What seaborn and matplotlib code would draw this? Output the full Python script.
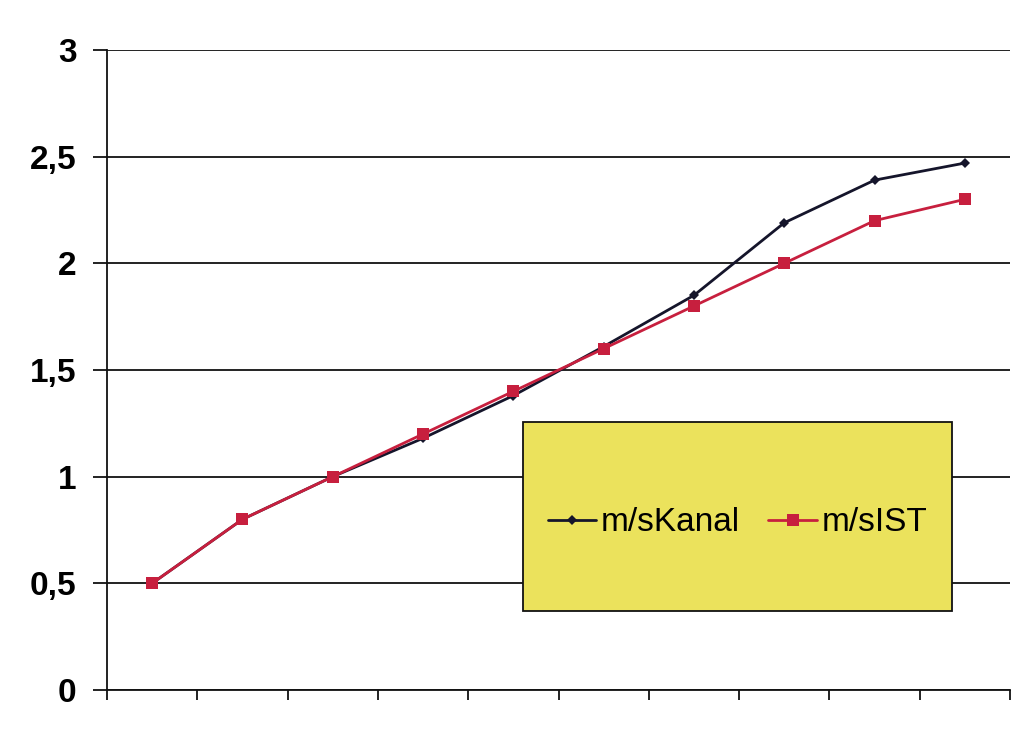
import matplotlib
matplotlib.use("Agg")
import matplotlib.pyplot as plt
import seaborn as sns
import pandas as pd
import numpy as np
from matplotlib.patches import Rectangle

# Data
points = list(range(1, 11))
kanal = [0.50, 0.80, 1.00, 1.18, 1.38, 1.61, 1.85, 2.19, 2.39, 2.47]
ist = [0.50, 0.80, 1.00, 1.20, 1.40, 1.60, 1.80, 2.00, 2.20, 2.30]
series_names = ["m/sKanal", "m/sIST"]
y_ticks = [0, 0.5, 1, 1.5, 2, 2.5, 3]
y_labels = ["0", "0,5", "1", "1,5", "2", "2,5", "3"]

df = pd.DataFrame({
    "x": points * 2,
    "y": kanal + ist,
    "series": [series_names[0]] * len(kanal) + [series_names[1]] * len(ist),
})

sns.set_style("white")
plt.rcParams["font.family"] = ["Liberation Sans", "DejaVu Sans"]

fig = plt.figure(figsize=(10.24, 7.35), dpi=100)
ax = fig.add_axes([107/1024, 45/735, 903/1024, 640/735])

c_kanal = "#15152b"
c_ist = "#c71f3e"
palette = {series_names[0]: c_kanal, series_names[1]: c_ist}
markers = {series_names[0]: "D", series_names[1]: "s"}
sns.lineplot(data=df, x="x", y="y", hue="series", style="series",
             palette=palette, markers=markers, dashes=False,
             markersize=7, linewidth=2, markeredgewidth=0, ax=ax, legend=False)
lines = ax.get_lines()
lines[0].set_markersize(5.5)
lines[1].set_markersize(8.5)

ax.set_xlim(0.5, 10.5)
ax.set_ylim(0, 3)
ax.set_yticks(y_ticks)
ax.set_yticklabels(y_labels, fontsize=24, fontweight="bold", color="black")
ax.set_xticks(np.arange(0.5, 11, 1))
ax.set_xticklabels([])
ax.set_xlabel("")
ax.set_ylabel("")
ax.yaxis.grid(True, color="#111111", linewidth=1.3)
ax.xaxis.grid(False)
for s in ["top", "right"]:
    ax.spines[s].set_visible(False)
for s in ["left", "bottom"]:
    ax.spines[s].set_color("#111111")
    ax.spines[s].set_linewidth(1.3)
ax.tick_params(axis="y", length=10, width=1.3, color="#111111", pad=12, direction="out", left=True)
ax.tick_params(axis="x", length=7, width=1.3, color="#111111", direction="out", bottom=True)

# Legend box
x0, x1 = (523-107)/903, (952-107)/903
y0, y1 = (690-611)/640, (690-422)/640
rect = Rectangle((x0, y0), x1-x0, y1-y0, transform=ax.transAxes,
                 facecolor="#ebe25c", edgecolor="#111111", linewidth=1.3, zorder=5)
ax.add_patch(rect)
leg = ax.legend(lines[:2], series_names, loc="center",
                bbox_to_anchor=(x0, y0 - 0.01, x1-x0, y1-y0), bbox_transform=ax.transAxes,
                ncol=2, frameon=False, fontsize=24, handlelength=1.45,
                columnspacing=0.85, handletextpad=0.15, labelcolor="black")
leg.set_zorder(6)

fig.savefig("out.png", dpi=100, facecolor="white")
